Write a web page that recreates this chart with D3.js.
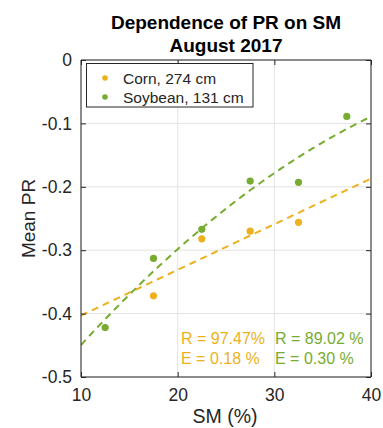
<!DOCTYPE html>
<html><head><meta charset="utf-8">
<script src="https://cdn.jsdelivr.net/npm/d3@7"></script>
<style>body{margin:0;background:#fff;} text{font-family:"Liberation Sans",Arial,Helvetica,sans-serif;}</style>
</head><body><svg id="c" width="383" height="428"></svg>
<script>
const cornSM = [17.5, 22.5, 27.5, 32.5];
const cornPR = [-0.372, -0.282, -0.270, -0.256];
const soySM = [12.5, 17.5, 22.5, 27.5, 32.5, 37.5];
const soyPR = [-0.422, -0.313, -0.267, -0.191, -0.193, -0.089];
const xTicks = [10, 20, 30, 40];
const yTicks = [0, -0.1, -0.2, -0.3, -0.4, -0.5];
const yTickLabels = ["0", "-0.1", "-0.2", "-0.3", "-0.4", "-0.5"];
const legendLabels = ["Corn, 274 cm", "Soybean, 131 cm"];
const cornStats = ["R = 97.47%", "E = 0.18 %"];
const soyStats = ["R = 89.02 %", "E = 0.30 %"];
const colors = ["#EDB120", "#77AC30"];

const svg = d3.select("#c");
const m = {l: 81, r: 371, t: 60, b: 377};
const x = d3.scaleLinear().domain([10, 40]).range([m.l, m.r]);
const y = d3.scaleLinear().domain([-0.5, 0]).range([m.b, m.t]);

// least squares polynomial fit
function polyfit(xs, ys, deg) {
  const n = deg + 1;
  const A = Array.from({length: n}, () => new Array(n + 1).fill(0));
  for (let i = 0; i < xs.length; i++) {
    for (let r = 0; r < n; r++) {
      for (let c = 0; c < n; c++) A[r][c] += Math.pow(xs[i], r + c);
      A[r][n] += ys[i] * Math.pow(xs[i], r);
    }
  }
  for (let i = 0; i < n; i++) {
    let p = i;
    for (let k = i + 1; k < n; k++) if (Math.abs(A[k][i]) > Math.abs(A[p][i])) p = k;
    [A[i], A[p]] = [A[p], A[i]];
    for (let k = i + 1; k < n; k++) {
      const f = A[k][i] / A[i][i];
      for (let j = i; j <= n; j++) A[k][j] -= f * A[i][j];
    }
  }
  const co = new Array(n).fill(0);
  for (let i = n - 1; i >= 0; i--) {
    let s = A[i][n];
    for (let j = i + 1; j < n; j++) s -= A[i][j] * co[j];
    co[i] = s / A[i][i];
  }
  return xv => co.reduce((acc, c, k) => acc + c * Math.pow(xv, k), 0);
}
const cornFit = polyfit(cornSM, cornPR, 1);
const soyFit = polyfit(soySM, soyPR, 2);

// grid
const g = svg.append("g");
g.selectAll(".gx").data(xTicks).enter().append("line")
  .attr("x1", d => x(d)).attr("x2", d => x(d)).attr("y1", m.t).attr("y2", m.b)
  .attr("stroke", "#e3e3e3").attr("stroke-width", 1);
g.selectAll(".gy").data(yTicks).enter().append("line")
  .attr("y1", d => y(d)).attr("y2", d => y(d)).attr("x1", m.l).attr("x2", m.r)
  .attr("stroke", "#e3e3e3").attr("stroke-width", 1);

// fit lines
const xs = d3.range(10, 40.01, 0.25);
svg.append("clipPath").attr("id", "cl").append("rect")
  .attr("x", m.l).attr("y", m.t).attr("width", m.r - m.l).attr("height", m.b - m.t);
const line = f => d3.line().x(d => x(d)).y(d => y(f(d)));
svg.append("path").attr("d", line(cornFit)(xs)).attr("fill", "none")
  .attr("stroke", colors[0]).attr("stroke-width", 2).attr("stroke-dasharray", "7,5")
  .attr("clip-path", "url(#cl)");
svg.append("path").attr("d", line(soyFit)(xs)).attr("fill", "none")
  .attr("stroke", colors[1]).attr("stroke-width", 2).attr("stroke-dasharray", "7,5")
  .attr("clip-path", "url(#cl)");

// points
svg.selectAll(".pc").data(cornSM).enter().append("circle")
  .attr("cx", d => x(d)).attr("cy", (d, i) => y(cornPR[i])).attr("r", 3.6).attr("fill", colors[0]);
svg.selectAll(".ps").data(soySM).enter().append("circle")
  .attr("cx", d => x(d)).attr("cy", (d, i) => y(soyPR[i])).attr("r", 3.6).attr("fill", colors[1]);

// axes
const ax = "#262626";
const xa = svg.append("g").attr("transform", `translate(0,${m.b})`)
  .call(d3.axisBottom(x).tickValues(xTicks).tickSize(-5).tickFormat(d3.format("d")));
const xt = svg.append("g").attr("transform", `translate(0,${m.t})`)
  .call(d3.axisTop(x).tickValues(xTicks).tickSize(-5).tickFormat(""));
const ya = svg.append("g").attr("transform", `translate(${m.l},0)`)
  .call(d3.axisLeft(y).tickValues(yTicks).tickSize(-5).tickPadding(9).tickFormat((d, i) => yTickLabels[i]));
const yr = svg.append("g").attr("transform", `translate(${m.r},0)`)
  .call(d3.axisRight(y).tickValues(yTicks).tickSize(-5).tickFormat(""));
[xa, xt, ya, yr].forEach(a => {
  a.selectAll("path").attr("stroke", ax).attr("stroke-width", 1);
  a.selectAll("line").attr("stroke", ax);
  a.selectAll("text").attr("fill", ax).style("font-size", "17.5px").style("font-family", '"Liberation Sans",Arial,sans-serif');
});
xa.selectAll("text").attr("y", 24).attr("dy", 0);
xa.select(".domain").attr("d", `M${m.l},0H${m.r}`);
xt.select(".domain").attr("d", `M${m.l},0H${m.r}`);
ya.select(".domain").attr("d", `M0,${m.t}V${m.b}`);
yr.select(".domain").attr("d", `M0,${m.t}V${m.b}`);

// labels
svg.append("text").attr("x", 225).attr("y", 423).attr("text-anchor", "middle")
  .style("font-size", "19.5px").attr("fill", ax).text("SM (%)");
svg.append("text").attr("transform", "translate(35,218.5) rotate(-90)").attr("text-anchor", "middle")
  .style("font-size", "19px").attr("fill", ax).text("Mean PR");
svg.append("text").attr("x", 226).attr("y", 29).attr("text-anchor", "middle")
  .style("font-size", "19px").style("font-weight", "bold").attr("fill", "#000").text("Dependence of PR on SM");
svg.append("text").attr("x", 226).attr("y", 51.5).attr("text-anchor", "middle")
  .style("font-size", "19px").style("font-weight", "bold").attr("fill", "#000").text("August 2017");

// legend
svg.append("rect").attr("x", 86.5).attr("y", 63.5).attr("width", 166.5).attr("height", 43.5)
  .attr("fill", "#fff").attr("stroke", ax).attr("stroke-width", 1);
legendLabels.forEach((t, i) => {
  svg.append("circle").attr("cx", 105).attr("cy", 78 + i * 19).attr("r", 2.8).attr("fill", colors[i]);
  svg.append("text").attr("x", 123).attr("y", 83.5 + i * 19).style("font-size", "15.5px").attr("fill", ax).text(t);
});

// stats
cornStats.forEach((t, i) => {
  svg.append("text").attr("x", 181).attr("y", 343.5 + i * 20).style("font-size", "16px").attr("fill", colors[0]).text(t);
});
soyStats.forEach((t, i) => {
  svg.append("text").attr("x", 275).attr("y", 343.5 + i * 20).style("font-size", "16px").attr("fill", colors[1]).text(t);
});
</script></body></html>
